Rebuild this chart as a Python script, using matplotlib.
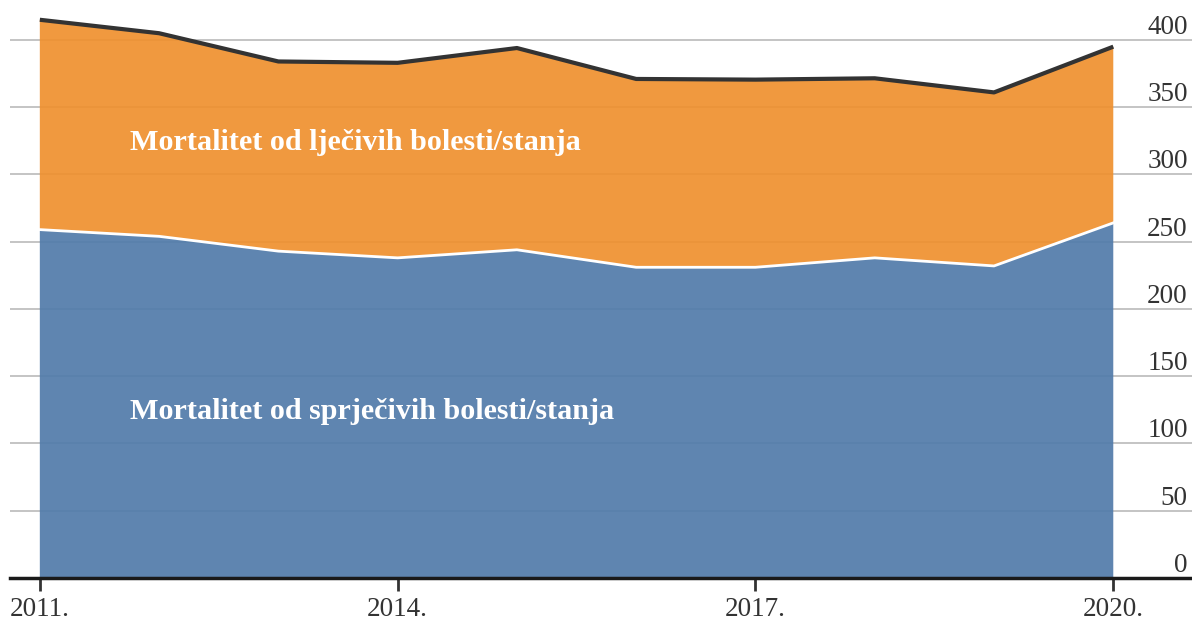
import matplotlib
matplotlib.use("Agg")
import matplotlib.pyplot as plt

# data
years = [2011, 2012, 2013, 2014, 2015, 2016, 2017, 2018, 2019, 2020]
preventable = [259, 254, 243, 238, 244, 231, 231, 238, 232, 264]
total = [415, 405, 384, 383, 394, 371, 370.5, 371.5, 361, 395]
treatable = [t - p for t, p in zip(total, preventable)]

y_ticks = [0, 50, 100, 150, 200, 250, 300, 350, 400]
x_ticks = [2011, 2014, 2017, 2020]
x_labels = ["2011.", "2014.", "2017.", "2020."]

plt.rcParams['font.family'] = ['Liberation Serif', 'DejaVu Serif']

fig = plt.figure(figsize=(11.92, 6.21), dpi=100)
ax = fig.add_axes([10 / 1192, 43 / 621, 1 - 10 / 1192, 578 / 621])

ax.stackplot(years, preventable, treatable,
             colors=['#517BAA', '#EF902E'], alpha=0.92, linewidth=0, zorder=2)
ax.plot(years, preventable, color='white', lw=2, zorder=3)
ax.plot(years, total, color='#333333', lw=3, zorder=4, solid_capstyle='butt')

ax.set_xlim(2010.75, 2020.66)
ax.set_ylim(0, 429.7)

# grid + right-hand labels sitting on the lines
ax.set_yticks(y_ticks)
ax.yaxis.tick_right()
ax.grid(axis='y', color='#c4c4c4', lw=1.4, zorder=1)
ax.tick_params(axis='y', length=0, pad=-3, labelsize=19.5, labelcolor='#333333')
for tl in ax.get_yticklabels():
    tl.set_horizontalalignment('right')
    tl.set_verticalalignment('bottom')

ax.set_xticks(x_ticks)
ax.set_xticklabels(x_labels)
ax.tick_params(axis='x', length=9, width=2, color='#333333', pad=5,
               labelsize=19.5, labelcolor='#333333')

for side in ['top', 'left', 'right']:
    ax.spines[side].set_visible(False)
ax.spines['bottom'].set_linewidth(2.5)
ax.spines['bottom'].set_color('#1a1a1a')
ax.spines['bottom'].set_zorder(5)
ax.set_axisbelow(True)

ax.text(2011.755, 324, "Mortalitet od lječivih bolesti/stanja", color='white',
        fontsize=21.7, fontweight='bold', va='center', ha='left', zorder=6)
ax.text(2011.755, 124, "Mortalitet od sprječivih bolesti/stanja", color='white',
        fontsize=21.7, fontweight='bold', va='center', ha='left', zorder=6)

plt.savefig("out.png", dpi=100)
